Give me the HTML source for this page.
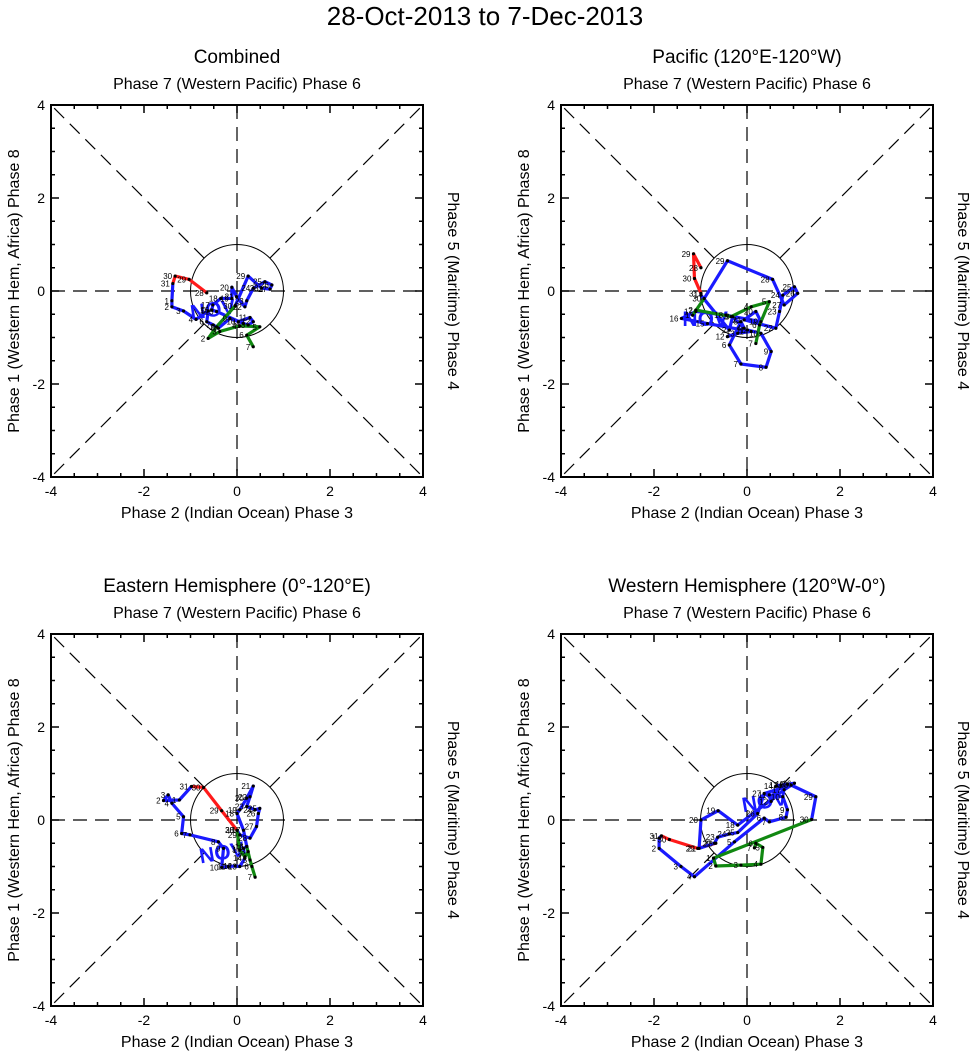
<!DOCTYPE html>
<html><head><meta charset="utf-8"><style>
body{margin:0;background:#fff;}
svg{display:block;font-family:"Liberation Sans",sans-serif;}
</style></head><body>
<svg id="chart" width="971" height="1058" viewBox="0 0 971 1058">
<text x="485" y="25" font-size="26" text-anchor="middle">28-Oct-2013 to 7-Dec-2013</text>
</svg>
<script>
const titles=["Combined","Pacific (120°E-120°W)","Eastern Hemisphere (0°-120°E)","Western Hemisphere (120°W-0°)"];
const tickVals=[-4,-2,0,2,4];
const octDays=[28,29,30,31];
const decDays=[1,2,3,4,5,6,7];
const p1Oct=[[-0.65,-0.04],[-1.03,0.25],[-1.33,0.32],[-1.38,0.16]];
const p1Nov=[[-1.40,-0.21],[-1.40,-0.34],[-1.15,-0.43],[-0.88,-0.61],[-0.62,-0.43],[-0.65,-0.66],[-0.51,-0.73],[-0.40,-0.80],[-0.15,-0.59],[0.03,-0.66],[0.28,-0.57],[0.35,-0.66],[0.24,-0.73],[0.14,-0.70],[-0.44,-0.44],[-0.54,-0.41],[-0.52,-0.30],[-0.35,-0.16],[-0.11,-0.16],[-0.11,0.08],[-0.01,-0.12],[0.17,-0.34],[0.21,-0.21],[0.35,0.06],[0.60,0.20],[0.75,0.13],[0.71,0.04],[0.53,0.06],[0.24,0.32],[-0.04,-0.32]];
const p1Dec=[[-0.44,-0.77],[-0.62,-1.02],[-0.37,-0.87],[0.06,-0.75],[0.49,-0.77],[0.21,-0.95],[0.35,-1.20]];
const p2Oct=[[-0.99,0.50],[-1.15,0.80],[-1.13,0.27],[-0.99,-0.05]];
const p2Nov=[[-0.99,-0.09],[-0.38,-0.84],[-0.31,-0.55],[-0.06,-0.80],[-0.13,-0.66],[-0.38,-1.16],[-0.13,-1.57],[0.41,-1.64],[0.52,-1.30],[0.30,-0.91],[0.01,-0.84],[-0.42,-0.98],[-0.20,-0.91],[0.09,-0.87],[-0.85,-0.70],[-1.41,-0.59],[-1.10,-0.44],[-0.45,-0.52],[0.30,-0.66],[0.19,-0.44],[-0.06,-0.62],[0.62,-0.80],[0.70,-0.44],[0.77,-0.09],[1.02,0.09],[1.09,-0.05],[0.80,-0.30],[0.55,0.25],[-0.42,0.65],[-0.92,-0.16]];
const p2Dec=[[-1.17,-0.52],[-1.10,-0.41],[-0.34,-0.55],[0.09,-0.34],[0.48,-0.23],[0.27,-0.73],[0.19,-1.13]];
const p3Oct=[[0,-0.22],[-0.33,0.20],[-0.72,0.70],[-0.98,0.72]];
const p3Nov=[[-1.24,0.43],[-1.58,0.42],[-1.48,0.54],[-1.40,0.36],[-1.15,0.07],[-1.19,-0.29],[-1.01,-0.32],[-0.40,-0.47],[-0.29,-0.61],[-0.33,-1.02],[-0.19,-1.00],[-0.04,-0.99],[0.06,-1.00],[0.17,-0.82],[0.14,-0.61],[0.21,-0.57],[0.14,-0.22],[0,0.14],[0.06,0.22],[0.21,0.47],[0.35,0.73],[0.28,0.50],[0.21,0.29],[0.39,0.22],[0.49,0.25],[0.46,0.14],[0.42,-0.14],[0.28,-0.39],[0.06,-0.32],[0,-0.22]];
const p3Dec=[[0.06,-0.65],[0.17,-0.79],[0.24,-0.68],[0.21,-0.57],[0.28,-0.86],[0.32,-1.00],[0.39,-1.23]];
const p4Oct=[[-0.67,-0.50],[-1.06,-0.61],[-1.67,-0.42],[-1.84,-0.34]];
const p4Nov=[[-1.89,-0.39],[-1.89,-0.61],[-1.42,-1.00],[-1.13,-1.22],[-0.27,-0.47],[0.37,0.04],[0.48,-0.04],[0.84,0.06],[0.87,0.22],[0.77,0.50],[0.48,0.54],[0.52,0.40],[0.73,0.75],[0.62,0.73],[0.87,0.77],[1.02,0.79],[0.80,0.65],[-0.20,-0.11],[-0.62,0.20],[-0.99,0],[-1.03,-0.61],[-0.70,-0.50],[-0.63,-0.37],[-0.38,-0.30],[-0.20,-0.27],[0.23,0.14],[0.37,0.57],[0.95,0.75],[1.48,0.50],[1.39,0.01]];
const p4Dec=[[-0.72,-0.82],[-0.67,-0.99],[-0.13,-0.97],[0.30,-0.95],[0.34,-0.59],[0.19,-0.50],[0.16,-0.60]];
const octSets=[p1Oct,p2Oct,p3Oct,p4Oct],novSets=[p1Nov,p2Nov,p3Nov,p4Nov],decSets=[p1Dec,p2Dec,p3Dec,p4Dec];
const origins=[[51,105],[561,105],[51,634],[561,634]];
const nov=[[-0.5,-0.55,-8],[-0.9,-0.75,0],[-0.3,-0.85,-10],[0.4,0.25,-10]];
const NS="http://www.w3.org/2000/svg";
const svg=document.getElementById('chart');
function mk(tag,attrs,parent){const e=document.createElementNS(NS,tag);for(const k in attrs)e.setAttribute(k,attrs[k]);(parent||svg).appendChild(e);return e;}
const S=372;
origins.forEach((o,pi)=>{
 const g=mk('g',{});
 
 
 const sx=v=>o[0]+(v+4)/8*S, sy=v=>o[1]+(4-v)/8*S;
 const cx=sx(0),cy=sy(0),r=S/8;
 mk('line',{x1:o[0],y1:cy,x2:o[0]+S,y2:cy,stroke:'#000','stroke-width':1.2,'stroke-dasharray':'14,8'},g);
 mk('line',{x1:cx,y1:o[1],x2:cx,y2:o[1]+S,stroke:'#000','stroke-width':1.2,'stroke-dasharray':'14,8'},g);
 const d=r/Math.SQRT2;
 [[1,1],[1,-1],[-1,1],[-1,-1]].forEach(([a,b])=>{
  mk('line',{x1:cx+a*d,y1:cy+b*d,x2:cx+a*S/2,y2:cy+b*S/2,stroke:'#000','stroke-width':1.2,'stroke-dasharray':'14,8'},g);
 });
 const c=mk('circle',{cx:cx,cy:cy,r:r,fill:'none',stroke:'#000','stroke-width':1},g);
 
 
 mk('rect',{x:o[0],y:o[1],width:S,height:S,fill:'none',stroke:'#000','stroke-width':2},g);
 for(let v=-4;v<=4;v+=0.5){
  const L=(v%2===0)?8:4;
  mk('line',{x1:sx(v),y1:o[1]+S,x2:sx(v),y2:o[1]+S-L,stroke:'#000','stroke-width':1.5},g);
  mk('line',{x1:sx(v),y1:o[1],x2:sx(v),y2:o[1]+L,stroke:'#000','stroke-width':1.5},g);
  mk('line',{x1:o[0],y1:sy(v),x2:o[0]+L,y2:sy(v),stroke:'#000','stroke-width':1.5},g);
  mk('line',{x1:o[0]+S,y1:sy(v),x2:o[0]+S-L,y2:sy(v),stroke:'#000','stroke-width':1.5},g);
 }
 tickVals.forEach(v=>{
  const t=mk('text',{x:sx(v),y:o[1]+S+19,'font-size':14,'text-anchor':'middle'},g);t.textContent=v;
  
  
  const u=mk('text',{x:o[0]-6,y:sy(v)+5,'font-size':14,'text-anchor':'end'},g);u.textContent=v;
  
  
 });
 const tt=mk('text',{x:cx,y:o[1]-42,'font-size':19,'text-anchor':'middle'},g);tt.textContent=titles[pi];
 
 
 const tp=mk('text',{x:cx,y:o[1]-16,'font-size':16,'text-anchor':'middle'},g);tp.textContent='Phase 7 (Western Pacific) Phase 6';
 
 
 const bt=mk('text',{x:cx,y:o[1]+S+41,'font-size':16,'text-anchor':'middle'},g);bt.textContent='Phase 2 (Indian Ocean) Phase 3';
 
 
 const lt=mk('text',{x:0,y:0,'font-size':16,'text-anchor':'middle',transform:`translate(${o[0]-32},${cy}) rotate(-90)`},g);lt.textContent='Phase 1 (Western Hem, Africa) Phase 8';
 
 
 const rt=mk('text',{x:0,y:0,'font-size':16,'text-anchor':'middle',transform:`translate(${o[0]+S+25},${cy}) rotate(90)`},g);rt.textContent='Phase 5 (Maritime) Phase 4';
 
 
 const nl=mk('text',{x:0,y:0,'font-size':21,'font-weight':'bold',fill:'#1a1aff','text-anchor':'middle',transform:`translate(${sx(nov[pi][0])},${sy(nov[pi][1])}) rotate(${nov[pi][2]})`},g);nl.textContent='NOV';
 
 
 const O=octSets[pi],N=novSets[pi],D=decSets[pi];
 const path=(pts,col,name)=>{const p=mk('polyline',{points:pts.map(q=>sx(q[0])+','+sy(q[1])).join(' '),fill:'none',stroke:col,'stroke-width':3.2,'stroke-linejoin':'round'},g);
  
  };
 path(O,'#ff1a1a','october-track');
 path([O[O.length-1]].concat(N),'#1a1aff','november-track');
 path([N[N.length-1]].concat(D),'#118811','december-track');
 const lab=(pts,days)=>pts.forEach((q,i)=>{
  const dt=mk('circle',{cx:sx(q[0]),cy:sy(q[1]),r:1.6,fill:'#000'},g);
  
  
  const t=mk('text',{x:sx(q[0])-3,y:sy(q[1])+3,'font-size':8,'text-anchor':'end'},g);t.textContent=days[i];
  
  
 });
 lab(O,octDays);lab(N,N.map((_,i)=>i+1));lab(D,decDays);
});
</script>
</body></html>
